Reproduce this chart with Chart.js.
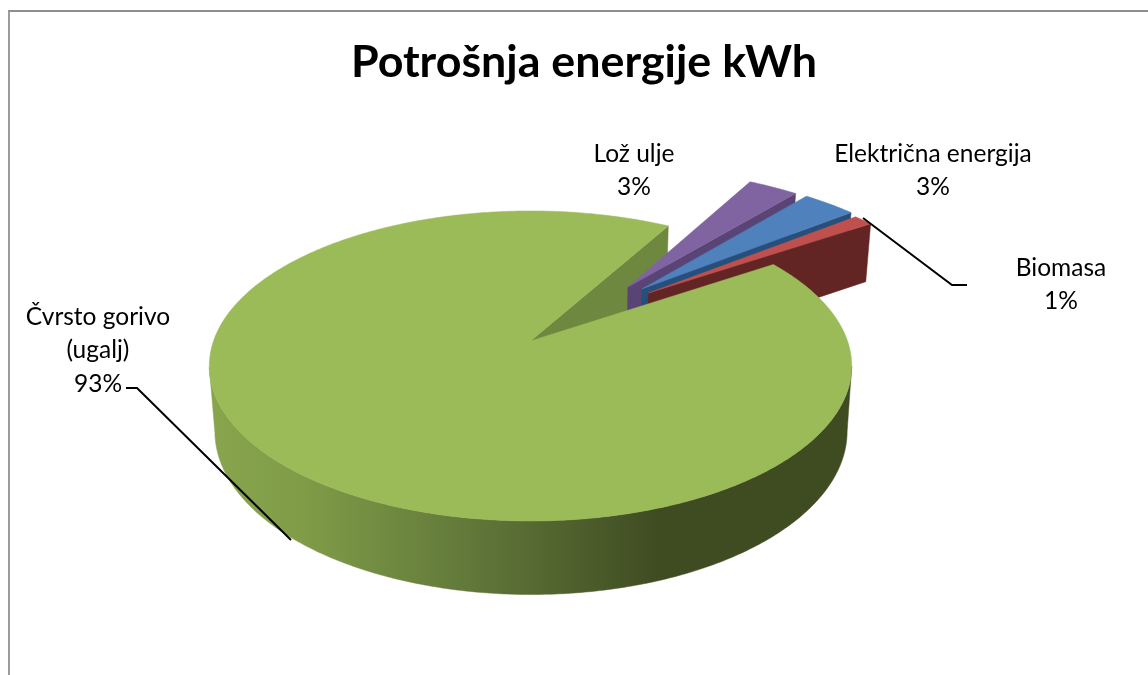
<!DOCTYPE html>
<html>
<head>
<meta charset="utf-8">
<title>Potrošnja energije kWh</title>
<script src="https://cdn.jsdelivr.net/npm/chart.js@4"></script>
<style>
  html,body{margin:0;padding:0;background:#fff;overflow:hidden}
  #frame{position:absolute;left:8px;top:10px;right:0;bottom:-4px;border-left:2px solid #9c9c9c;border-top:2px solid #8f8f8f}
  canvas{position:absolute;left:0;top:0}
</style>
</head>
<body>
<div id="frame"></div>
<canvas id="pie" width="1148" height="675"></canvas>
<script>
const chartTitle = 'Potrošnja energije kWh';
const categories = ['Lož ulje','Električna energija','Biomasa','Čvrsto gorivo (ugalj)'];
const shares = [3.0,3.25,1.2,92.55];
const labelLines = [['Lož ulje'],['Električna energija'],['Biomasa'],['Čvrsto gorivo','(ugalj)']];

const topColors  = ['#8064A2','#4F81BD','#C0504D','#9BBB59'];
const wallColors = ['#5A4375','#264F7C','#632523','#6F883F'];

// camera: one projection for the top face, one for the bottom face of the pie
const topFace    = {x:530.5,y:341,rx:317,ry:151,k:0.161};
const bottomFace = {x:531,y:405,rx:312,ry:159,k:0.161};
// exploded slices, shift in pie-plane units and radius factor
const shiftU = [0.326,0.372,0.392,0];
const shiftV = [-0.379,-0.365,-0.335,0];
const radiusF = [1.026,1.012,1.0,1.0];
// label anchors and leader lines
const labelX = [634,933,1061,98];
const labelY = [154,154,268,317];
const lineGap = 33.5;
const leaders = [
  [[863,218],[952,285],[967,285]],
  [[126,388],[137,388],[291,540]]
];

const project = (f,u,v)=>{
  const w = 1 - f.k*v;
  return [f.x + f.rx*u/w, f.y + f.ry*v/w];
};

function polygon(ctx,pts,fill){
  ctx.beginPath();
  pts.forEach((p,i)=> i ? ctx.lineTo(p[0],p[1]) : ctx.moveTo(p[0],p[1]));
  ctx.closePath();
  ctx.fillStyle = fill;
  ctx.fill();
  ctx.strokeStyle = fill;
  ctx.lineWidth = 0.5;
  ctx.stroke();
}

// plane coordinates for a point of slice i at angle a (radians, as the arc element gives them)
const planePoint = (i,a)=>[shiftU[i]+radiusF[i]*Math.cos(a), shiftV[i]+radiusF[i]*Math.sin(a)];

function topPath(i,arc){
  const pts = [project(topFace,shiftU[i],shiftV[i])];
  const steps = Math.ceil((arc.endAngle-arc.startAngle)/0.01);
  for(let s=0;s<=steps;s++){
    const a = arc.startAngle+(arc.endAngle-arc.startAngle)*s/steps;
    const p = planePoint(i,a);
    pts.push(project(topFace,p[0],p[1]));
  }
  return pts;
}

function cutWall(ctx,i,a){
  const p = planePoint(i,a);
  polygon(ctx,[
    project(topFace,shiftU[i],shiftV[i]),
    project(topFace,p[0],p[1]),
    project(bottomFace,p[0],p[1]),
    project(bottomFace,shiftU[i],shiftV[i])
  ],wallColors[i]);
}

function frontWall(ctx,i,arc){
  // only the part of the rim that faces the viewer
  const upper=[], lower=[];
  const steps = Math.ceil((arc.endAngle-arc.startAngle)/0.01);
  for(let s=0;s<=steps;s++){
    const a = arc.startAngle+(arc.endAngle-arc.startAngle)*s/steps;
    const p = planePoint(i,a);
    if(p[1] < topFace.k) continue;
    upper.push(project(topFace,p[0],p[1]));
    lower.push(project(bottomFace,p[0],p[1]));
  }
  const g = ctx.createLinearGradient(212,0,848,0);
  g.addColorStop(0,'#88A54D');
  g.addColorStop(0.15,'#7F9B47');
  g.addColorStop(0.4,'#62793A');
  g.addColorStop(0.7,'#3F4C22');
  g.addColorStop(1,'#3F4C22');
  polygon(ctx,upper.concat(lower.reverse()),g);
}

const pie3d = {
  id:'pie3d',
  beforeDatasetDraw(chart,args){
    const ctx = chart.ctx;
    const arcs = chart.getDatasetMeta(args.index).data;
    const last = arcs.length-1;
    ctx.save();
    cutWall(ctx,last,arcs[last].endAngle);
    arcs.forEach((arc,i)=>{
      if(i===last) return;
      cutWall(ctx,i,arc.endAngle);
      polygon(ctx,topPath(i,arc),topColors[i]);
    });
    frontWall(ctx,last,arcs[last]);
    polygon(ctx,topPath(last,arcs[last]),topColors[last]);
    ctx.restore();
    return false;
  },
  afterDatasetsDraw(chart){
    const ctx = chart.ctx;
    ctx.save();
    ctx.strokeStyle = '#000';
    ctx.lineWidth = 2;
    leaders.forEach(l=>{
      ctx.beginPath();
      l.forEach((p,i)=> i ? ctx.lineTo(p[0],p[1]) : ctx.moveTo(p[0],p[1]));
      ctx.stroke();
    });
    ctx.fillStyle = '#000';
    ctx.font = '24.5px Lato';
    ctx.textAlign = 'center';
    ctx.textBaseline = 'middle';
    categories.forEach((c,i)=>{
      const lines = labelLines[i].concat([Math.round(shares[i])+'%']);
      lines.forEach((t,n)=> ctx.fillText(t,labelX[i],labelY[i]+n*lineGap));
    });
    ctx.restore();
  }
};

new Chart(document.getElementById('pie'),{
  type:'pie',
  data:{
    labels:categories,
    datasets:[{data:shares,backgroundColor:topColors,borderWidth:0}]
  },
  options:{
    responsive:false,
    animation:false,
    rotation:29.7,
    layout:{padding:{left:20}},
    plugins:{
      legend:{display:false},
      tooltip:{enabled:false},
      title:{
        display:true,
        text:chartTitle,
        fullSize:false,
        color:'#000',
        font:{family:'Lato',size:44.8,weight:'bold'},
        padding:{top:36,bottom:10}
      }
    }
  },
  plugins:[pie3d]
});
</script>
</body>
</html>
